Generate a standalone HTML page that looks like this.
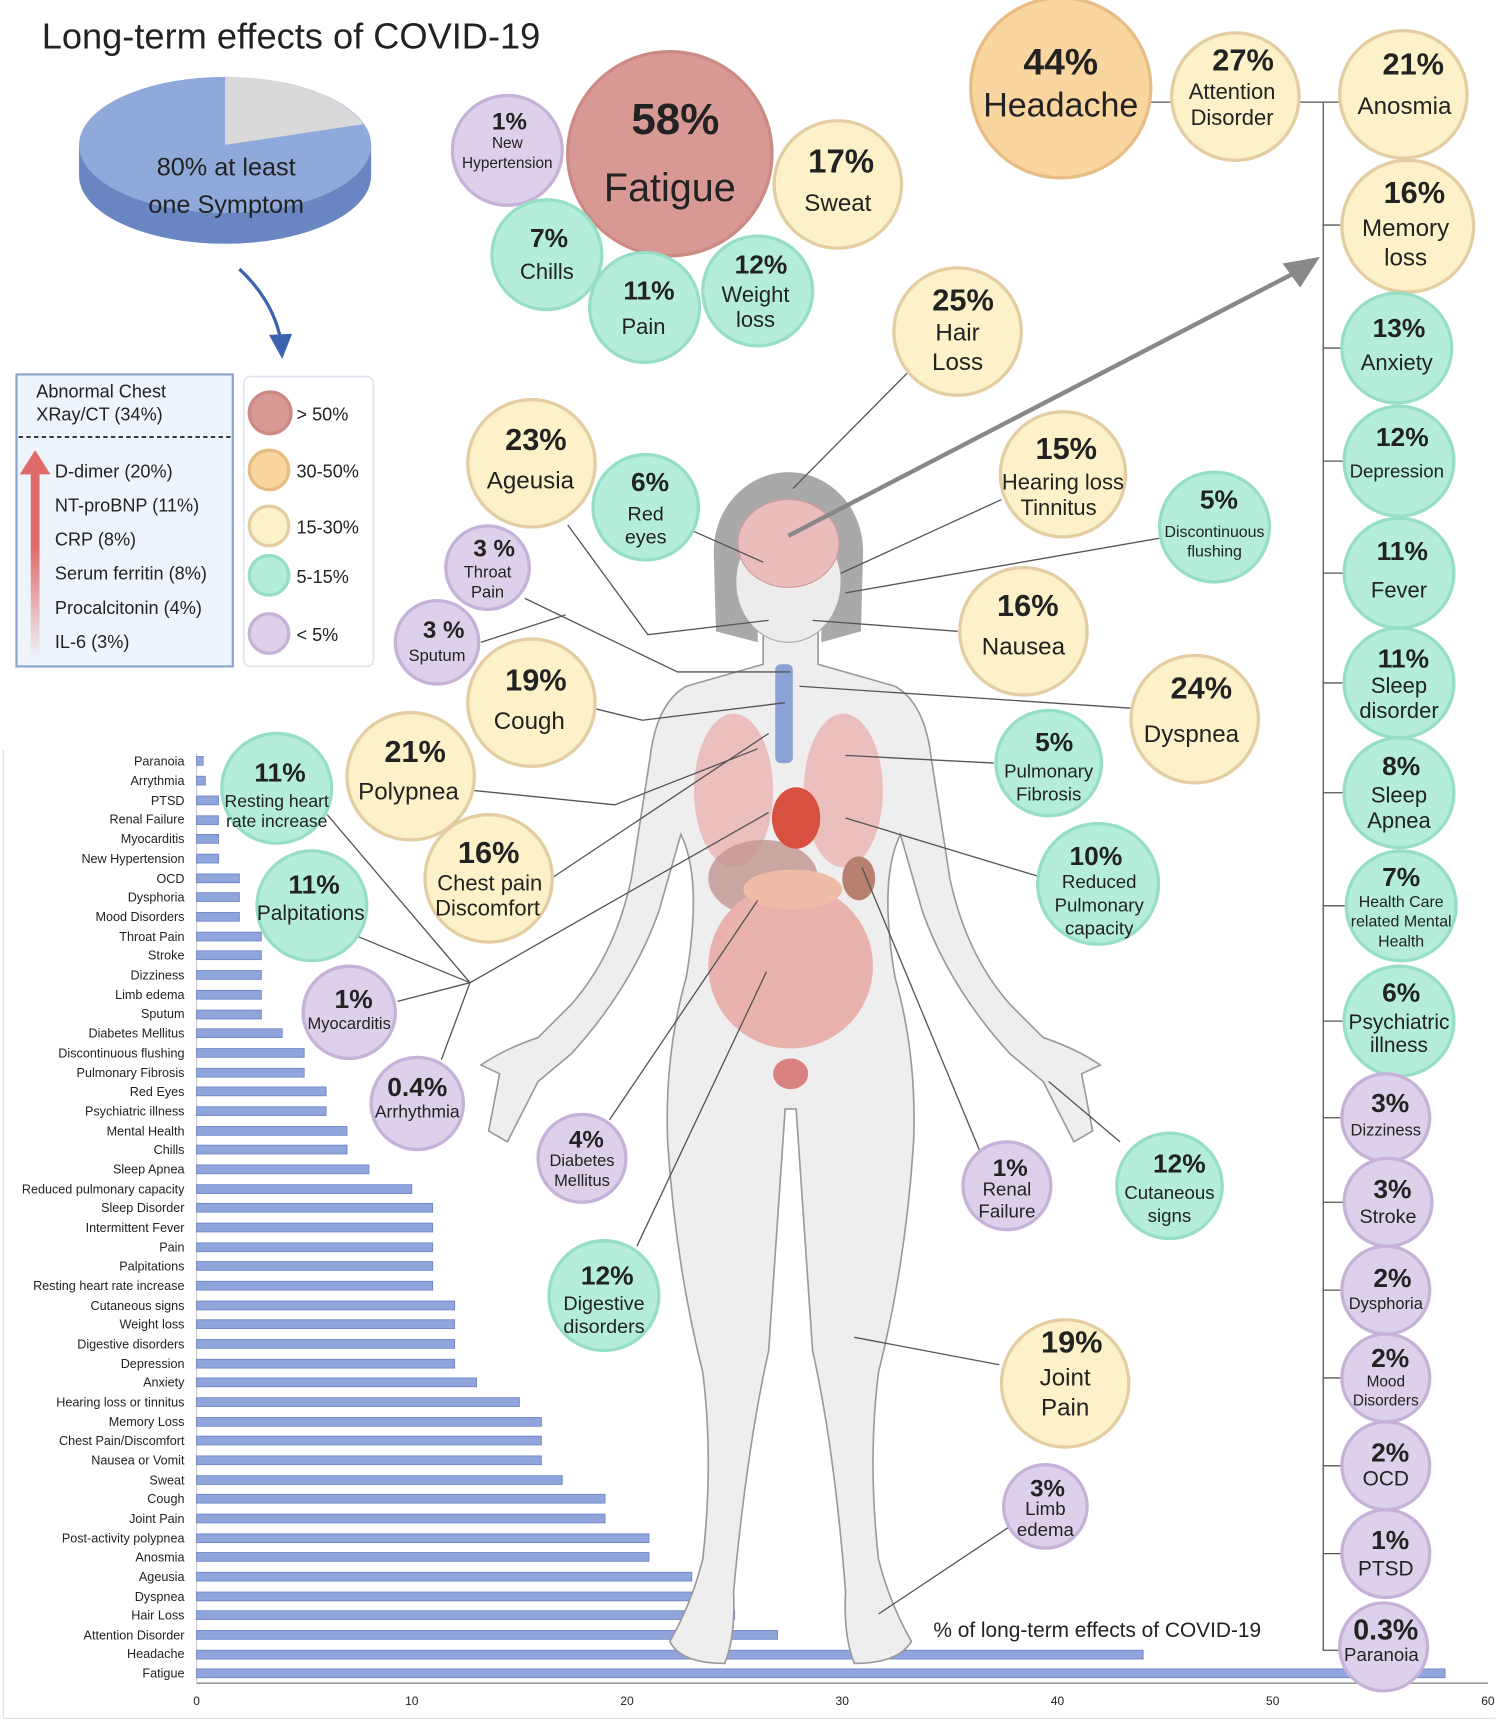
<!DOCTYPE html>
<html><head><meta charset="utf-8"><style>
html,body{margin:0;padding:0;background:#fff}
svg{display:block}
text{font-family:"Liberation Sans",sans-serif;fill:#222}
.b{font-weight:bold}
.r{fill:#d89893;stroke:#cc8a84;stroke-width:3}
.o{fill:#f9d5a0;stroke:#e8bd85;stroke-width:3}
.y{fill:#fdf1c9;stroke:#e4cda2;stroke-width:3}
.t{fill:#b4eddb;stroke:#97dec7;stroke-width:3}
.p{fill:#ddd0ea;stroke:#c6b1d9;stroke-width:3}
.ln{stroke:#555;stroke-width:1.2;fill:none}
.bl{font-size:11.5px;text-anchor:end}
.bar{fill:#8fa5dc;stroke:#6f86c6;stroke-width:0.8}
</style></head><body>
<svg width="1500" height="1726" viewBox="0 0 1366 1572" preserveAspectRatio="none" xmlns="http://www.w3.org/2000/svg">
<text x="38" y="44" font-size="33">Long-term effects of COVID-19</text>

<!-- pie -->
<path d="M72,132 L72,160 A133,62 0 0 0 338,160 L338,132 Z" fill="#6a86c2"/>
<ellipse cx="205" cy="132" rx="133" ry="62" fill="#8fa9da"/>
<path d="M205,132 L205,70 A133,62 0 0 1 331,113 Z" fill="#d9d9d9"/>
<text x="206" y="160" font-size="23" text-anchor="middle">80% at least</text>
<text x="206" y="194" font-size="23" text-anchor="middle">one Symptom</text>
<path d="M218,245 Q250,275 256,312" stroke="#3d63b0" stroke-width="3" fill="none"/>
<path d="M245,305 L257,327 L266,304 Z" fill="#3d63b0"/>

<!-- lab box -->
<rect x="15" y="341" width="197" height="266" fill="#eef4fb" stroke="#8aa6cf" stroke-width="2"/>
<text x="33" y="362" font-size="16.5">Abnormal Chest</text>
<text x="33" y="383" font-size="16.5">XRay/CT (34%)</text>
<line x1="17" y1="398" x2="210" y2="398" stroke="#222" stroke-width="1.5" stroke-dasharray="4,3"/>
<defs><linearGradient id="ag" x1="0" y1="1" x2="0" y2="0"><stop offset="0" stop-color="#e06a6a" stop-opacity="0"/><stop offset="0.6" stop-color="#e06a6a"/></linearGradient></defs>
<rect x="28" y="430" width="8" height="170" fill="url(#ag)"/>
<path d="M18,432 L32,410 L46,432 Z" fill="#e06a6a"/>
<g font-size="16.5"><text x="50" y="435">D-dimer (20%)</text><text x="50" y="466">NT-proBNP (11%)</text><text x="50" y="497">CRP (8%)</text><text x="50" y="528">Serum ferritin (8%)</text><text x="50" y="559">Procalcitonin (4%)</text><text x="50" y="590">IL-6 (3%)</text></g>
<rect x="222" y="343" width="118" height="264" rx="6" fill="#fff" stroke="#dde6f0" stroke-width="1.5"/>
<circle cx="246" cy="376" r="19" class="r"/><text x="270" y="383" font-size="16.5">&gt; 50%</text>
<circle cx="245" cy="428" r="18" class="o"/><text x="270" y="435" font-size="16.5">30-50%</text>
<circle cx="245" cy="479" r="18" class="y"/><text x="270" y="486" font-size="16.5">15-30%</text>
<circle cx="245" cy="524" r="18" class="t"/><text x="270" y="531" font-size="16.5">5-15%</text>
<circle cx="245" cy="577" r="18" class="p"/><text x="270" y="584" font-size="16.5">&lt; 5%</text>

<!-- bar chart -->
<line x1="3" y1="683" x2="3" y2="1565" stroke="#ddd"/>
<line x1="3" y1="1565" x2="1362" y2="1565" stroke="#ddd"/>
<line x1="179" y1="686" x2="179" y2="1533" stroke="#ccc"/>
<line x1="179" y1="1533" x2="1355" y2="1533" stroke="#888" stroke-width="1.2"/>
<g font-size="11" text-anchor="middle"><text x="179" y="1553">0</text><text x="375" y="1553">10</text><text x="571" y="1553">20</text><text x="767" y="1553">30</text><text x="963" y="1553">40</text><text x="1159" y="1553">50</text><text x="1355" y="1553">60</text></g>
<g>
<rect class="bar" x="179" y="689" width="6" height="8"/><text class="bl" x="168" y="697">Paranoia</text>
<rect class="bar" x="179" y="707" width="8" height="8"/><text class="bl" x="168" y="715">Arrythmia</text>
<rect class="bar" x="179" y="725" width="20" height="8"/><text class="bl" x="168" y="733">PTSD</text>
<rect class="bar" x="179" y="743" width="20" height="8"/><text class="bl" x="168" y="750">Renal Failure</text>
<rect class="bar" x="179" y="760" width="20" height="8"/><text class="bl" x="168" y="768">Myocarditis</text>
<rect class="bar" x="179" y="778" width="20" height="8"/><text class="bl" x="168" y="786">New Hypertension</text>
<rect class="bar" x="179" y="796" width="39" height="8"/><text class="bl" x="168" y="804">OCD</text>
<rect class="bar" x="179" y="813" width="39" height="8"/><text class="bl" x="168" y="821">Dysphoria</text>
<rect class="bar" x="179" y="831" width="39" height="8"/><text class="bl" x="168" y="839">Mood Disorders</text>
<rect class="bar" x="179" y="849" width="59" height="8"/><text class="bl" x="168" y="857">Throat Pain</text>
<rect class="bar" x="179" y="866" width="59" height="8"/><text class="bl" x="168" y="874">Stroke</text>
<rect class="bar" x="179" y="884" width="59" height="8"/><text class="bl" x="168" y="892">Dizziness</text>
<rect class="bar" x="179" y="902" width="59" height="8"/><text class="bl" x="168" y="910">Limb edema</text>
<rect class="bar" x="179" y="920" width="59" height="8"/><text class="bl" x="168" y="927">Sputum</text>
<rect class="bar" x="179" y="937" width="78" height="8"/><text class="bl" x="168" y="945">Diabetes Mellitus</text>
<rect class="bar" x="179" y="955" width="98" height="8"/><text class="bl" x="168" y="963">Discontinuous flushing</text>
<rect class="bar" x="179" y="973" width="98" height="8"/><text class="bl" x="168" y="981">Pulmonary Fibrosis</text>
<rect class="bar" x="179" y="990" width="118" height="8"/><text class="bl" x="168" y="998">Red Eyes</text>
<rect class="bar" x="179" y="1008" width="118" height="8"/><text class="bl" x="168" y="1016">Psychiatric illness</text>
<rect class="bar" x="179" y="1026" width="137" height="8"/><text class="bl" x="168" y="1034">Mental Health</text>
<rect class="bar" x="179" y="1043" width="137" height="8"/><text class="bl" x="168" y="1051">Chills</text>
<rect class="bar" x="179" y="1061" width="157" height="8"/><text class="bl" x="168" y="1069">Sleep Apnea</text>
<rect class="bar" x="179" y="1079" width="196" height="8"/><text class="bl" x="168" y="1087">Reduced pulmonary capacity</text>
<rect class="bar" x="179" y="1096" width="215" height="8"/><text class="bl" x="168" y="1104">Sleep Disorder</text>
<rect class="bar" x="179" y="1114" width="215" height="8"/><text class="bl" x="168" y="1122">Intermittent Fever</text>
<rect class="bar" x="179" y="1132" width="215" height="8"/><text class="bl" x="168" y="1140">Pain</text>
<rect class="bar" x="179" y="1149" width="215" height="8"/><text class="bl" x="168" y="1157">Palpitations</text>
<rect class="bar" x="179" y="1167" width="215" height="8"/><text class="bl" x="168" y="1175">Resting heart rate increase</text>
<rect class="bar" x="179" y="1185" width="235" height="8"/><text class="bl" x="168" y="1193">Cutaneous signs</text>
<rect class="bar" x="179" y="1202" width="235" height="8"/><text class="bl" x="168" y="1210">Weight loss</text>
<rect class="bar" x="179" y="1220" width="235" height="8"/><text class="bl" x="168" y="1228">Digestive disorders</text>
<rect class="bar" x="179" y="1238" width="235" height="8"/><text class="bl" x="168" y="1246">Depression</text>
<rect class="bar" x="179" y="1255" width="255" height="8"/><text class="bl" x="168" y="1263">Anxiety</text>
<rect class="bar" x="179" y="1273" width="294" height="8"/><text class="bl" x="168" y="1281">Hearing loss or tinnitus</text>
<rect class="bar" x="179" y="1291" width="314" height="8"/><text class="bl" x="168" y="1299">Memory Loss</text>
<rect class="bar" x="179" y="1308" width="314" height="8"/><text class="bl" x="168" y="1316">Chest Pain/Discomfort</text>
<rect class="bar" x="179" y="1326" width="314" height="8"/><text class="bl" x="168" y="1334">Nausea or Vomit</text>
<rect class="bar" x="179" y="1344" width="333" height="8"/><text class="bl" x="168" y="1352">Sweat</text>
<rect class="bar" x="179" y="1361" width="372" height="8"/><text class="bl" x="168" y="1369">Cough</text>
<rect class="bar" x="179" y="1379" width="372" height="8"/><text class="bl" x="168" y="1387">Joint Pain</text>
<rect class="bar" x="179" y="1397" width="412" height="8"/><text class="bl" x="168" y="1405">Post-activity polypnea</text>
<rect class="bar" x="179" y="1414" width="412" height="8"/><text class="bl" x="168" y="1422">Anosmia</text>
<rect class="bar" x="179" y="1432" width="451" height="8"/><text class="bl" x="168" y="1440">Ageusia</text>
<rect class="bar" x="179" y="1450" width="470" height="8"/><text class="bl" x="168" y="1458">Dyspnea</text>
<rect class="bar" x="179" y="1467" width="490" height="8"/><text class="bl" x="168" y="1475">Hair Loss</text>
<rect class="bar" x="179" y="1485" width="529" height="8"/><text class="bl" x="168" y="1493">Attention Disorder</text>
<rect class="bar" x="179" y="1503" width="862" height="8"/><text class="bl" x="168" y="1510">Headache</text>
<rect class="bar" x="179" y="1520" width="1137" height="8"/><text class="bl" x="168" y="1528">Fatigue</text>
</g>
<text x="850" y="1491" font-size="19">% of long-term effects of COVID-19</text>

<!-- body -->
<ellipse cx="718" cy="502" rx="68" ry="72" fill="#a9a9a9"/>
<path d="M650,505 L652,575 L690,585 L690,560 Z M786,505 L784,575 L748,585 L748,560 Z" fill="#a9a9a9"/>
<path d="M695,575 L695,605 L625,625 Q598,640 592,690 L575,800 Q560,870 520,915 L490,945 Q460,955 438,970 L455,978 L445,1030 L462,1040 L490,985 L520,960 Q575,900 600,830 L620,760 Q640,800 625,890 Q605,960 608,1040 Q615,1150 640,1250 Q650,1330 640,1420 Q630,1460 610,1495 Q620,1515 660,1515 Q670,1490 668,1450 Q680,1320 700,1230 L715,1010 L725,1010 L740,1230 Q760,1320 770,1450 Q768,1490 778,1515 Q818,1515 830,1495 Q810,1460 800,1420 Q790,1330 800,1250 Q825,1150 832,1040 Q835,960 815,890 Q800,800 820,760 L840,830 Q865,900 920,960 L950,985 L978,1040 L995,1030 L985,978 L1002,970 Q980,955 950,945 L920,915 Q880,870 865,800 L848,690 Q842,640 815,625 L745,605 L745,575 Z" fill="#eeeeee" stroke="#9a9a9a" stroke-width="1.5"/>
<ellipse cx="718" cy="530" rx="48" ry="55" fill="#ececec" stroke="#aaa"/>
<ellipse cx="718" cy="495" rx="46" ry="40" fill="#ebbcbc" stroke="#d49a9a"/>
<rect x="706" y="605" width="16" height="90" rx="5" fill="#8aa2d6"/>
<ellipse cx="668" cy="720" rx="36" ry="70" fill="#ebb6b6" opacity="0.85"/>
<ellipse cx="768" cy="720" rx="36" ry="70" fill="#ebb6b6" opacity="0.85"/>
<ellipse cx="695" cy="800" rx="50" ry="35" fill="#c09590" opacity="0.8"/>
<ellipse cx="725" cy="745" rx="22" ry="28" fill="#d8503f"/>
<ellipse cx="720" cy="880" rx="75" ry="75" fill="#e9b2ad"/>
<ellipse cx="722" cy="810" rx="45" ry="18" fill="#f0bca8"/>
<ellipse cx="782" cy="800" rx="15" ry="20" fill="#b88070"/>
<ellipse cx="720" cy="978" rx="16" ry="14" fill="#d98080"/>

<!-- leader lines -->
<g class="ln">
<line x1="722" y1="445" x2="826" y2="340"/>
<line x1="632" y1="484" x2="695" y2="512"/>
<line x1="766" y1="522" x2="912" y2="455"/>
<line x1="770" y1="540" x2="1057" y2="490"/>
<polyline points="517,478 590,578 700,565"/>
<line x1="740" y1="565" x2="872" y2="575"/>
<polyline points="478,545 617,612 720,612"/>
<line x1="438" y1="585" x2="515" y2="560"/>
<polyline points="540,645 585,656 715,640"/>
<line x1="728" y1="625" x2="1030" y2="645"/>
<polyline points="432,720 560,733 690,682"/>
<line x1="770" y1="688" x2="905" y2="695"/>
<line x1="502" y1="800" x2="700" y2="668"/>
<line x1="770" y1="745" x2="945" y2="798"/>
<polyline points="298,742 428,895 402,965"/>
<line x1="326" y1="853" x2="428" y2="895"/>
<line x1="362" y1="912" x2="428" y2="895"/>
<line x1="428" y1="895" x2="700" y2="740"/>
<line x1="555" y1="1020" x2="690" y2="820"/>
<line x1="580" y1="1135" x2="698" y2="885"/>
<line x1="785" y1="790" x2="893" y2="1050"/>
<line x1="955" y1="985" x2="1020" y2="1040"/>
<line x1="778" y1="1218" x2="910" y2="1243"/>
<line x1="800" y1="1470" x2="920" y2="1390"/>
<line x1="1048" y1="93" x2="1067" y2="93"/>
<line x1="1183" y1="93" x2="1220" y2="93"/>
<polyline points="1205,93 1205,1503 1220,1503"/>
<line x1="1205" y1="205" x2="1222" y2="205"/><line x1="1205" y1="317" x2="1222" y2="317"/><line x1="1205" y1="420" x2="1224" y2="420"/><line x1="1205" y1="522" x2="1224" y2="522"/><line x1="1205" y1="622" x2="1224" y2="622"/><line x1="1205" y1="722" x2="1224" y2="722"/><line x1="1205" y1="825" x2="1226" y2="825"/><line x1="1205" y1="930" x2="1224" y2="930"/><line x1="1205" y1="1018" x2="1222" y2="1018"/><line x1="1205" y1="1095" x2="1224" y2="1095"/><line x1="1205" y1="1175" x2="1222" y2="1175"/><line x1="1205" y1="1255" x2="1222" y2="1255"/><line x1="1205" y1="1335" x2="1222" y2="1335"/><line x1="1205" y1="1415" x2="1222" y2="1415"/>
</g>
<line x1="718" y1="488" x2="1180" y2="248" stroke="#888" stroke-width="4"/>
<path d="M1202,234 L1168,240 L1184,262 Z" fill="#888"/>

<!-- bubbles -->
<g text-anchor="middle">
<circle cx="610" cy="140" r="93" class="r"/><text class="b" x="615" y="122" font-size="40">58%</text><text x="610" y="183" font-size="36">Fatigue</text>
<circle cx="462" cy="137" r="50" class="p"/><text class="b" x="464" y="118" font-size="22">1%</text><text x="462" y="135" font-size="14">New</text><text x="462" y="153" font-size="14">Hypertension</text>
<circle cx="763" cy="168" r="58" class="y"/><text class="b" x="766" y="157" font-size="30">17%</text><text x="763" y="192" font-size="22">Sweat</text>
<circle cx="498" cy="232" r="50" class="t"/><text class="b" x="500" y="225" font-size="24">7%</text><text x="498" y="254" font-size="20">Chills</text>
<circle cx="587" cy="280" r="50" class="t"/><text class="b" x="591" y="273" font-size="24">11%</text><text x="586" y="304" font-size="20">Pain</text>
<circle cx="690" cy="265" r="50" class="t"/><text class="b" x="693" y="249" font-size="24">12%</text><text x="688" y="275" font-size="20">Weight</text><text x="688" y="298" font-size="20">loss</text>
<circle cx="966" cy="80" r="82" class="o"/><text class="b" x="966" y="68" font-size="34">44%</text><text x="966" y="106" font-size="31">Headache</text>
<circle cx="1125" cy="88" r="58" class="y"/><text class="b" x="1132" y="64" font-size="28">27%</text><text x="1122" y="90" font-size="20">Attention</text><text x="1122" y="114" font-size="20">Disorder</text>
<circle cx="1278" cy="86" r="58" class="y"/><text class="b" x="1287" y="68" font-size="28">21%</text><text x="1279" y="104" font-size="22">Anosmia</text>
<circle cx="1282" cy="206" r="60" class="y"/><text class="b" x="1288" y="185" font-size="28">16%</text><text x="1280" y="215" font-size="22">Memory</text><text x="1280" y="242" font-size="22">loss</text>
<circle cx="1272" cy="317" r="50" class="t"/><text class="b" x="1274" y="307" font-size="24">13%</text><text x="1272" y="337" font-size="20">Anxiety</text>
<circle cx="1274" cy="420" r="50" class="t"/><text class="b" x="1277" y="406" font-size="24">12%</text><text x="1272" y="435" font-size="17">Depression</text>
<circle cx="1274" cy="522" r="50" class="t"/><text class="b" x="1277" y="510" font-size="24">11%</text><text x="1274" y="544" font-size="20">Fever</text>
<circle cx="1274" cy="622" r="50" class="t"/><text class="b" x="1278" y="608" font-size="24">11%</text><text x="1274" y="631" font-size="20">Sleep</text><text x="1274" y="654" font-size="20">disorder</text>
<circle cx="1274" cy="722" r="50" class="t"/><text class="b" x="1276" y="706" font-size="24">8%</text><text x="1274" y="731" font-size="20">Sleep</text><text x="1274" y="754" font-size="20">Apnea</text>
<circle cx="1276" cy="825" r="50" class="t"/><text class="b" x="1276" y="807" font-size="24">7%</text><text x="1276" y="826" font-size="14.5">Health Care</text><text x="1276" y="844" font-size="14.5">related Mental</text><text x="1276" y="862" font-size="14.5">Health</text>
<circle cx="1274" cy="930" r="50" class="t"/><text class="b" x="1276" y="912" font-size="24">6%</text><text x="1274" y="937" font-size="19">Psychiatric</text><text x="1274" y="958" font-size="19">illness</text>
<circle cx="1262" cy="1018" r="40" class="p"/><text class="b" x="1266" y="1013" font-size="24">3%</text><text x="1262" y="1034" font-size="15">Dizziness</text>
<circle cx="1264" cy="1095" r="40" class="p"/><text class="b" x="1268" y="1091" font-size="24">3%</text><text x="1264" y="1114" font-size="18">Stroke</text>
<circle cx="1262" cy="1175" r="40" class="p"/><text class="b" x="1268" y="1172" font-size="24">2%</text><text x="1262" y="1192" font-size="15">Dysphoria</text>
<circle cx="1262" cy="1255" r="40" class="p"/><text class="b" x="1266" y="1245" font-size="24">2%</text><text x="1262" y="1263" font-size="14">Mood</text><text x="1262" y="1280" font-size="14">Disorders</text>
<circle cx="1262" cy="1335" r="40" class="p"/><text class="b" x="1266" y="1331" font-size="24">2%</text><text x="1262" y="1353" font-size="19">OCD</text>
<circle cx="1262" cy="1415" r="40" class="p"/><text class="b" x="1266" y="1411" font-size="24">1%</text><text x="1262" y="1435" font-size="19">PTSD</text>
<circle cx="1260" cy="1500" r="40" class="p"/><text class="b" x="1262" y="1493" font-size="26">0.3%</text><text x="1258" y="1513" font-size="17">Paranoia</text>
<circle cx="872" cy="302" r="58" class="y"/><text class="b" x="877" y="283" font-size="28">25%</text><text x="872" y="310" font-size="22">Hair</text><text x="872" y="337" font-size="22">Loss</text>
<circle cx="484" cy="422" r="58" class="y"/><text class="b" x="488" y="410" font-size="28">23%</text><text x="483" y="445" font-size="22">Ageusia</text>
<circle cx="588" cy="462" r="48" class="t"/><text class="b" x="592" y="447" font-size="24">6%</text><text x="588" y="474" font-size="18">Red</text><text x="588" y="495" font-size="18">eyes</text>
<circle cx="968" cy="432" r="57" class="y"/><text class="b" x="971" y="418" font-size="28">15%</text><text x="968" y="446" font-size="20">Hearing loss</text><text x="964" y="469" font-size="20">Tinnitus</text>
<circle cx="1106" cy="480" r="50" class="t"/><text class="b" x="1110" y="463" font-size="24">5%</text><text x="1106" y="489" font-size="14.5">Discontinuous</text><text x="1106" y="507" font-size="14.5">flushing</text>
<circle cx="444" cy="517" r="38" class="p"/><text class="b" x="450" y="507" font-size="22">3 %</text><text x="444" y="526" font-size="15">Throat</text><text x="444" y="544" font-size="15">Pain</text>
<circle cx="398" cy="585" r="38" class="p"/><text class="b" x="404" y="581" font-size="22">3 %</text><text x="398" y="602" font-size="15">Sputum</text>
<circle cx="932" cy="575" r="58" class="y"/><text class="b" x="936" y="561" font-size="28">16%</text><text x="932" y="596" font-size="22">Nausea</text>
<circle cx="484" cy="640" r="58" class="y"/><text class="b" x="488" y="629" font-size="28">19%</text><text x="482" y="664" font-size="22">Cough</text>
<circle cx="1088" cy="655" r="58" class="y"/><text class="b" x="1094" y="636" font-size="28">24%</text><text x="1085" y="676" font-size="22">Dyspnea</text>
<circle cx="374" cy="707" r="58" class="y"/><text class="b" x="378" y="694" font-size="28">21%</text><text x="372" y="728" font-size="22">Polypnea</text>
<circle cx="252" cy="718" r="50" class="t"/><text class="b" x="255" y="712" font-size="24">11%</text><text x="252" y="735" font-size="16">Resting heart</text><text x="252" y="753" font-size="16">rate increase</text>
<circle cx="955" cy="695" r="48" class="t"/><text class="b" x="960" y="684" font-size="24">5%</text><text x="955" y="708" font-size="17">Pulmonary</text><text x="955" y="729" font-size="17">Fibrosis</text>
<circle cx="445" cy="800" r="58" class="y"/><text class="b" x="445" y="786" font-size="28">16%</text><text x="446" y="811" font-size="20">Chest pain</text><text x="444" y="834" font-size="20">Discomfort</text>
<circle cx="284" cy="825" r="50" class="t"/><text class="b" x="286" y="814" font-size="24">11%</text><text x="283" y="838" font-size="19">Palpitations</text>
<circle cx="1000" cy="805" r="55" class="t"/><text class="b" x="998" y="788" font-size="24">10%</text><text x="1001" y="809" font-size="17">Reduced</text><text x="1001" y="830" font-size="17">Pulmonary</text><text x="1001" y="851" font-size="17">capacity</text>
<circle cx="318" cy="922" r="42" class="p"/><text class="b" x="322" y="918" font-size="24">1%</text><text x="318" y="937" font-size="15">Myocarditis</text>
<circle cx="380" cy="1005" r="42" class="p"/><text class="b" x="380" y="998" font-size="24">0.4%</text><text x="380" y="1018" font-size="16">Arrhythmia</text>
<circle cx="530" cy="1055" r="40" class="p"/><text class="b" x="534" y="1045" font-size="22">4%</text><text x="530" y="1062" font-size="15">Diabetes</text><text x="530" y="1080" font-size="15">Mellitus</text>
<circle cx="917" cy="1080" r="40" class="p"/><text class="b" x="920" y="1071" font-size="22">1%</text><text x="917" y="1089" font-size="17">Renal</text><text x="917" y="1109" font-size="17">Failure</text>
<circle cx="1065" cy="1080" r="48" class="t"/><text class="b" x="1074" y="1068" font-size="24">12%</text><text x="1065" y="1092" font-size="17">Cutaneous</text><text x="1065" y="1113" font-size="17">signs</text>
<circle cx="550" cy="1180" r="50" class="t"/><text class="b" x="553" y="1170" font-size="24">12%</text><text x="550" y="1193" font-size="18">Digestive</text><text x="550" y="1214" font-size="18">disorders</text>
<circle cx="970" cy="1260" r="58" class="y"/><text class="b" x="976" y="1232" font-size="28">19%</text><text x="970" y="1262" font-size="22">Joint</text><text x="970" y="1289" font-size="22">Pain</text>
<circle cx="952" cy="1372" r="38" class="p"/><text class="b" x="954" y="1363" font-size="22">3%</text><text x="952" y="1380" font-size="17">Limb</text><text x="952" y="1399" font-size="17">edema</text>
</g>
</svg>
</body></html>
